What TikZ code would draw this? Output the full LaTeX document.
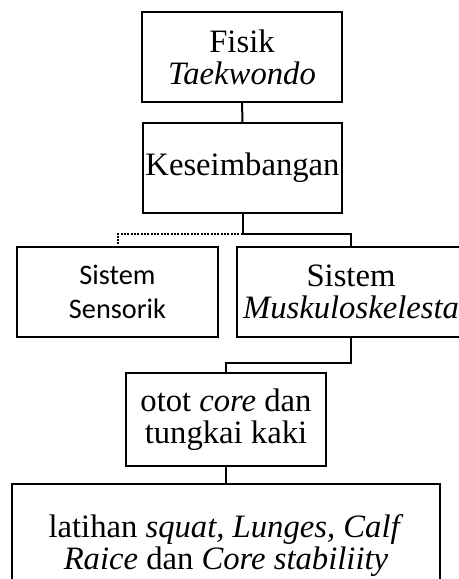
\documentclass[tikz,border=0pt]{standalone}
\usepackage{fontspec}
\setmainfont{Liberation Serif}
\newfontfamily\calibrifont{Carlito}
\usetikzlibrary{calc, positioning}

\tikzset{
  kotak/.style={draw, line width=1.5pt, align=center, inner sep=0pt,
    font=\fontsize{24.5}{24}\selectfont},
  garis/.style={line width=1.5pt},
  titik/.style={line width=1.5pt, dash pattern=on 1.5pt off 1pt}
}

\begin{document}
\begin{tikzpicture}[x=0.75pt, y=-0.75pt]
		\useasboundingbox (0,0) rectangle (459,579);
		\clip (0,0) rectangle (459,579);
		\node[kotak, minimum width=150pt, minimum height=67.5pt] (fisik) at (242,57) {Fisik\\\textit{Taekwondo}};
		\node[kotak, minimum width=149pt, minimum height=67.5pt] (seimbang) at (242.5,168) {Keseimbangan};
		\node[kotak, minimum width=151pt, minimum height=67.5pt, font=\calibrifont\fontsize{21.2}{26}\selectfont] (sensorik) at (117.5,292) {Sistem\\Sensorik};
		\node[kotak, minimum width=171pt, minimum height=67.5pt] (muskulo) at (351,292) {Sistem\\\textit{Muskuloskelesta}};
		\node[kotak, minimum width=150pt, minimum height=70pt] (otot) at (226,419.5) {otot \textit{core} dan\\tungkai kaki};
		\node[kotak, minimum width=321pt, minimum height=93pt] (latihan) at (226,546) {latihan \textit{squat, Lunges, Calf}\\\textit{Raice} dan \textit{Core stabiliity}};
		% penghubung
		\coordinate (cabang) at (242.5,234);
		\coordinate (siku) at (351,363);
		\draw[garis] (fisik) -- (seimbang);
		\draw[garis] (seimbang.south) -- (cabang);
		\draw[titik] (cabang) -| (sensorik.north);
		\draw[garis] (cabang) -| (muskulo.north);
		\draw[garis] (muskulo.south) -- (siku) -| (otot.north);
		\draw[garis] (otot) -- (latihan);
	\end{tikzpicture}
\end{document}
